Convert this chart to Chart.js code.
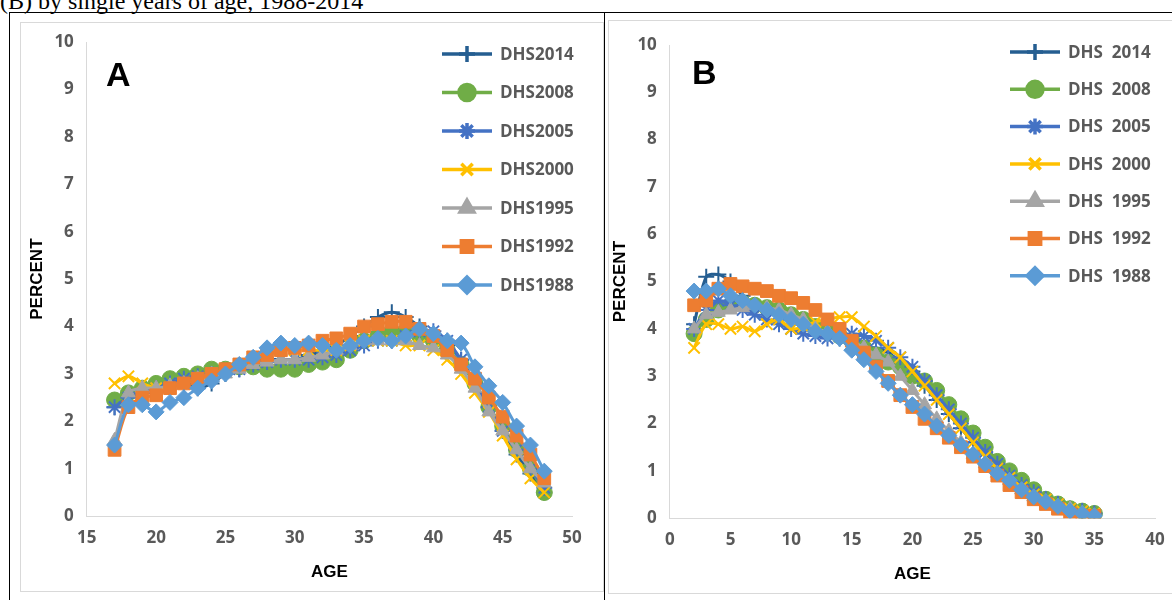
<!DOCTYPE html>
<html>
<head>
<meta charset="utf-8">
<script src="https://cdn.jsdelivr.net/npm/chart.js@4.4.0/dist/chart.umd.min.js"></script>
<style>
  body { margin: 0; width: 1172px; height: 600px; overflow: hidden; background: #fff; position: relative; font-family: "Liberation Serif", serif; }
  #cap { position: absolute; left: 0; top: -12px; font-size: 24px; color: #000; }
  .frame { position: absolute; border: 1px solid #000; }
  .box { position: absolute; border: 1px solid #d9d9d9; }
  canvas { position: absolute; }
</style>
</head>
<body>
<div id="cap">(B) by single years of age, 1988-2014</div>
<div class="frame" style="left:9px;top:12px;width:1163px;height:600px;border-right:none;border-bottom:none"></div>
<div class="box" style="left:20px;top:22px;width:582px;height:568px"></div>
<div class="box" style="left:608px;top:20px;width:566px;height:572px"></div>
<div style="position:absolute;left:604px;top:12px;width:1px;height:600px;background:#000"></div>
<canvas id="chartA" style="left:20px;top:22px" width="582" height="568"></canvas>
<canvas id="chartB" style="left:608px;top:20px" width="564" height="572"></canvas>
<script>
const agesA = [17,18,19,20,21,22,23,24,25,26,27,28,29,30,31,32,33,34,35,36,37,38,39,40,41,42,43,44,45,46,47,48];
const a2014 = [2.3,2.6,2.7,2.7,2.8,2.8,2.7,2.8,3.0,3.1,3.2,3.3,3.3,3.3,3.4,3.5,3.6,3.8,4.0,4.2,4.3,4.2,4.0,3.8,3.6,3.3,2.8,2.3,1.8,1.3,0.9,0.5];
const a2008 = [2.45,2.6,2.7,2.8,2.9,2.95,3.0,3.1,3.1,3.15,3.15,3.1,3.1,3.1,3.2,3.25,3.3,3.5,3.7,3.8,3.9,3.9,3.8,3.7,3.5,3.2,2.8,2.3,1.9,1.4,1.0,0.5];
const a2005 = [2.3,2.5,2.6,2.7,2.8,2.9,2.95,3.0,3.05,3.1,3.2,3.25,3.3,3.3,3.3,3.35,3.4,3.5,3.6,3.7,3.7,3.8,3.9,3.9,3.7,3.3,2.8,2.3,1.8,1.4,1.0,0.6];
const a2000 = [2.8,2.95,2.8,2.7,2.7,2.8,2.9,3.0,3.1,3.2,3.3,3.4,3.5,3.5,3.5,3.5,3.5,3.6,3.7,3.7,3.7,3.6,3.6,3.5,3.3,3.0,2.6,2.2,1.7,1.2,0.8,0.5];
const a1995 = [1.6,2.6,2.7,2.7,2.75,2.8,2.9,3.0,3.0,3.1,3.2,3.25,3.3,3.3,3.35,3.4,3.5,3.6,3.7,3.7,3.7,3.7,3.6,3.55,3.4,3.1,2.7,2.2,1.8,1.4,1.0,0.7];
const a1992 = [1.4,2.3,2.5,2.55,2.7,2.8,2.9,3.0,3.1,3.2,3.35,3.4,3.5,3.55,3.6,3.7,3.75,3.85,4.0,4.05,4.1,4.1,3.95,3.8,3.5,3.2,2.9,2.5,2.1,1.7,1.3,0.8];
const a1988 = [1.5,2.35,2.35,2.2,2.4,2.5,2.7,2.85,3.0,3.2,3.35,3.55,3.65,3.6,3.65,3.6,3.5,3.6,3.7,3.75,3.7,3.8,3.95,3.85,3.7,3.65,3.15,2.75,2.4,1.9,1.5,0.95];

const agesB = [2,3,4,5,6,7,8,9,10,11,12,13,14,15,16,17,18,19,20,21,22,23,24,25,26,27,28,29,30,31,32,33,34,35];
const b2014 = [4.1,5.1,5.15,5.0,4.7,4.5,4.4,4.3,4.2,4.1,4.0,3.9,3.8,3.7,3.6,3.6,3.5,3.3,3.1,2.8,2.5,2.2,1.9,1.6,1.35,1.1,0.9,0.7,0.55,0.4,0.3,0.2,0.15,0.1];
const b2008 = [3.9,4.2,4.4,4.5,4.55,4.5,4.45,4.4,4.3,4.2,4.05,3.95,3.85,3.75,3.6,3.45,3.3,3.2,3.0,2.9,2.7,2.4,2.1,1.8,1.5,1.2,1.0,0.8,0.6,0.4,0.3,0.2,0.15,0.1];
const b2005 = [4.0,4.4,4.6,4.5,4.4,4.3,4.2,4.1,4.0,3.9,3.85,3.8,3.85,3.9,3.85,3.75,3.6,3.4,3.2,2.9,2.6,2.3,2.0,1.7,1.4,1.15,0.9,0.7,0.55,0.4,0.3,0.2,0.15,0.1];
const b2000 = [3.6,4.1,4.1,4.0,4.05,3.95,4.1,4.2,4.0,4.05,4.15,4.2,4.25,4.25,4.05,3.85,3.6,3.4,3.1,2.8,2.5,2.2,1.9,1.6,1.3,1.05,0.85,0.65,0.5,0.4,0.3,0.2,0.15,0.1];
const b1995 = [4.0,4.3,4.35,4.4,4.45,4.5,4.45,4.4,4.3,4.2,4.0,3.95,3.85,3.75,3.6,3.45,3.3,3.0,2.7,2.4,2.1,1.85,1.6,1.35,1.15,0.95,0.8,0.6,0.45,0.35,0.25,0.2,0.1,0.05];
const b1992 = [4.5,4.6,4.85,4.95,4.9,4.85,4.8,4.7,4.65,4.55,4.4,4.2,4.0,3.75,3.5,3.2,2.9,2.6,2.35,2.1,1.9,1.7,1.5,1.3,1.1,0.9,0.7,0.55,0.4,0.3,0.2,0.1,0.05,0.05];
const b1988 = [4.8,4.8,4.85,4.7,4.6,4.5,4.4,4.3,4.2,4.1,3.95,3.9,3.8,3.55,3.35,3.1,2.85,2.6,2.4,2.2,1.95,1.75,1.55,1.35,1.15,0.95,0.8,0.6,0.45,0.35,0.25,0.15,0.1,0.05];

const years = ['2014','2008','2005','2000','1995','1992','1988'];
const colors = ['#255E91','#70AD47','#4472C4','#FFC000','#A5A5A5','#ED7D31','#5B9BD5'];
const styles = ['cross','circle','star','crossRot','triangle','rect','rectRot'];
const radii = [8,8,8,8,8,9,8];

function makeSets(ages, series) {
  return series.map((vals, i) => ({
    label: 'DHS' + years[i],
    data: ages.map((a, j) => ({ x: a, y: vals[j] })),
    borderColor: colors[i], backgroundColor: colors[i],
    borderWidth: 3, pointStyle: styles[i], pointRadius: radii[i],
    pointBorderWidth: (styles[i] === 'cross' || styles[i] === 'crossRot' || styles[i] === 'star') ? 2 : 1,
    tension: 0.3
  })).reverse();
}

function legendPlugin(x0, y0, step, sep) {
  return {
    id: 'lg',
    afterDraw(chart) {
      const ctx = chart.ctx;
      ctx.save();
      years.forEach((y, i) => {
        const yy = y0 + i * step;
        ctx.strokeStyle = colors[i]; ctx.lineWidth = 3.5;
        ctx.beginPath(); ctx.moveTo(x0, yy); ctx.lineTo(x0 + 50, yy); ctx.stroke();
        const st = styles[i];
        ctx.fillStyle = colors[i];
        Chart.helpers.drawPoint(ctx, { pointStyle: st, radius: 8, borderWidth: 2 }, x0 + 25, yy);
        if (st !== 'cross' && st !== 'crossRot' && st !== 'star') ctx.fill();
        ctx.fillStyle = '#595959';
        ctx.font = 'bold 17px "Open Sans", sans-serif';
        ctx.textBaseline = 'middle';
        ctx.fillText('DHS' + sep + y, x0 + 58, yy + 1);
      });
      ctx.restore();
      const t = chart.options.plugins.tag;
      ctx.save();
      ctx.fillStyle = '#000';
      ctx.font = 'bold 34px "Liberation Sans", sans-serif';
      ctx.fillText(t.text, t.x, t.y);
      ctx.restore();
    }
  };
}

function makeChart(id, ages, series, xmin, xmax, legend, tag, pad) {
  const tickFont = { family: '"Open Sans", sans-serif', size: 17, weight: 'bold' };
  const titleFont = { family: '"Liberation Sans", sans-serif', size: 17, weight: 'bold' };
  return new Chart(document.getElementById(id), {
    type: 'line',
    data: { datasets: makeSets(ages, series) },
    options: {
      responsive: false, animation: false,
      layout: { padding: pad },
      plugins: { legend: { display: false }, tooltip: { enabled: false }, tag: tag },
      scales: {
        x: { type: 'linear', min: xmin, max: xmax, grid: { display: false },
             border: { color: '#d9d9d9' },
             ticks: { stepSize: 5, color: '#595959', font: tickFont, padding: 4 },
             title: { display: true, text: 'AGE', color: '#000', font: titleFont, padding: { top: 10, bottom: 0 } } },
        y: { min: 0, max: 10, grid: { display: false },
             border: { color: '#d9d9d9' },
             ticks: { stepSize: 1, color: '#595959', font: tickFont, padding: 5 },
             title: { display: true, text: 'PERCENT', color: '#000', font: titleFont, padding: 2 } }
      }
    },
    plugins: [legend]
  });
}

makeChart('chartA', agesA, [a2014,a2008,a2005,a2000,a1995,a1992,a1988], 15, 50,
  legendPlugin(422, 32, 38.5, ''), { text: 'A', x: 86, y: 64 }, { left: 5, right: 30, top: 20, bottom: 7 });
makeChart('chartB', agesB, [b2014,b2008,b2005,b2000,b1995,b1992,b1988], 0, 40,
  legendPlugin(402, 32, 37.3, '  '), { text: 'B', x: 84, y: 64 }, { left: 0, right: 17, top: 25, bottom: 7 });
</script>
</body>
</html>
